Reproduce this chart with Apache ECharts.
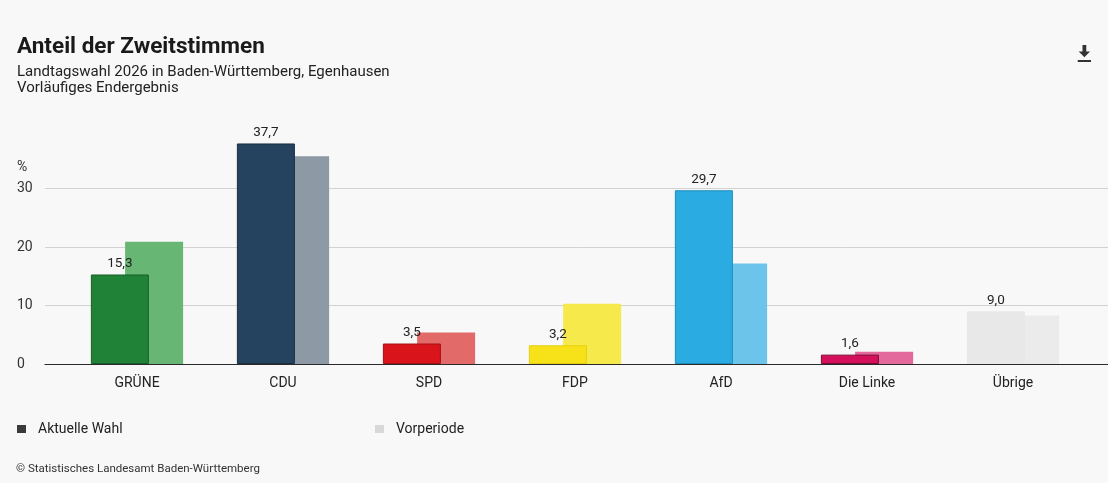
<!DOCTYPE html>
<html>
<head>
<meta charset="utf-8">
<script src="https://cdn.jsdelivr.net/npm/echarts@6/dist/echarts.min.js"></script>
<style>
html,body{margin:0;padding:0;background:#f8f8f8;}
#c{width:1108px;height:483px;}
</style>
</head>
<body>
<div id="c"></div>
<script>
const categories = ['GRÜNE', 'CDU', 'SPD', 'FDP', 'AfD', 'Die Linke', 'Übrige'];
const currentValues = [15.3, 37.7, 3.5, 3.2, 29.7, 1.6, 9.0];
const previousValues = [20.9, 35.5, 5.4, 10.3, 17.2, 2.1, 8.3];
const currentColors = ['#1f8236', '#25435f', '#d9151b', '#f7e21a', '#2aace3', '#d40f5c', '#e8e8e8'];
const previousColors = ['#68b674', '#8d99a4', '#e26b69', '#f6e94c', '#6cc4ea', '#e3689b', '#ebebeb'];
const currentBorders = ['#17602a', '#1a2f43', '#a50f14', '#e6cf10', '#1f8cbc', '#7a0a33', '#e8e8e8'];
const yTicks = [0, 10, 20, 30];

const FONT = 'Roboto, "Noto Sans", sans-serif';
const fmt = v => v.toFixed(1).replace('.', ',');

const chart = echarts.init(document.getElementById('c'), null, {renderer: 'canvas'});
chart.setOption({
  backgroundColor: '#f8f8f8',
  textStyle: {fontFamily: FONT},
  animation: false,
  title: [
    {text: 'Anteil der Zweitstimmen', left: 12, top: 31,
     textStyle: {fontSize: 22.5, fontWeight: 'bold', color: '#1a1a1a', fontFamily: FONT}},
    {text: 'Landtagswahl 2026 in Baden-Württemberg, Egenhausen\nVorläufiges Endergebnis', left: 12, top: 59,
     textStyle: {fontSize: 15, fontWeight: 'normal', color: '#222', lineHeight: 16, fontFamily: FONT}},
    {text: '%', left: 12, top: 155,
     textStyle: {fontSize: 14, fontWeight: 'normal', color: '#333', fontFamily: FONT}},
    {text: '© Statistisches Landesamt Baden-Württemberg', left: 11, top: 458,
     textStyle: {fontSize: 11.5, fontWeight: 'normal', color: '#333', fontFamily: FONT}}
  ],
  toolbox: {
    right: 2, top: 30, itemSize: 17,
    iconStyle: {color: '#333', borderWidth: 0},
    feature: {
      saveAsImage: {
        title: '',
        icon: 'path://M5,0 H9 V7 H13 L7,13 L1,7 H5 Z M0,16 H14 V18 H0 Z'
      }
    }
  },
  legend: [
    {left: 12, top: 417, itemWidth: 9, itemHeight: 8, icon: 'rect', selectedMode: false,
     textStyle: {fontSize: 14, color: '#222', fontFamily: FONT, padding: [0, 0, 0, 7]},
     data: [{name: 'Aktuelle Wahl', itemStyle: {color: '#3a3a3a', borderWidth: 0}}]},
    {left: 370, top: 417, itemWidth: 9, itemHeight: 8, icon: 'rect', selectedMode: false,
     textStyle: {fontSize: 14, color: '#222', fontFamily: FONT, padding: [0, 0, 0, 7]},
     data: [{name: 'Vorperiode', itemStyle: {color: '#d8d8d8', borderWidth: 0}}]}
  ],
  grid: [
    {left: 64, right: 22, top: 130, bottom: 119},
    {left: 45, right: 0, top: 130, bottom: 119}
  ],
  xAxis: [
    {type: 'category', gridIndex: 0, data: categories,
     axisLine: {show: false}, axisTick: {show: false},
     axisLabel: {margin: 12, fontSize: 14, color: '#222', fontFamily: FONT}},
    {type: 'value', gridIndex: 1, min: 0, max: 1,
     axisLine: {show: true, onZero: true, lineStyle: {color: '#2a2a2a', width: 1.2}},
     axisTick: {show: false}, axisLabel: {show: false}, splitLine: {show: false}}
  ],
  yAxis: [
    {type: 'value', gridIndex: 0, min: 0, max: 40, interval: 10, show: false},
    {type: 'value', gridIndex: 1, min: 0, max: 40, interval: 10,
     axisLine: {show: false}, axisTick: {show: false},
     axisLabel: {align: 'left', margin: 28, fontSize: 14, color: '#333', showMaxLabel: false,
                 fontFamily: FONT,
                 formatter: v => yTicks.includes(v) ? String(v) : ''},
     splitLine: {show: true, showMinLine: false, showMaxLine: false,
                 lineStyle: {color: '#d2d2d2', width: 1}}}
  ],
  series: [
    {name: 'Aktuelle Wahl', type: 'bar', xAxisIndex: 0, yAxisIndex: 0, z: 3,
     barWidth: 58, barGap: '-41%',
     data: currentValues.map((v, i) => ({value: v,
       itemStyle: {color: currentColors[i], borderColor: currentBorders[i], borderWidth: 1}})),
     label: {show: true, position: 'top', distance: 4, fontSize: 13.5, color: '#222',
             fontFamily: FONT, formatter: p => fmt(p.value)}},
    {name: 'Vorperiode', type: 'bar', xAxisIndex: 0, yAxisIndex: 0, z: 2,
     barWidth: 58, barGap: '-41%',
     data: previousValues.map((v, i) => ({value: v, itemStyle: {color: previousColors[i]}}))}
  ]
});
</script>
</body>
</html>
